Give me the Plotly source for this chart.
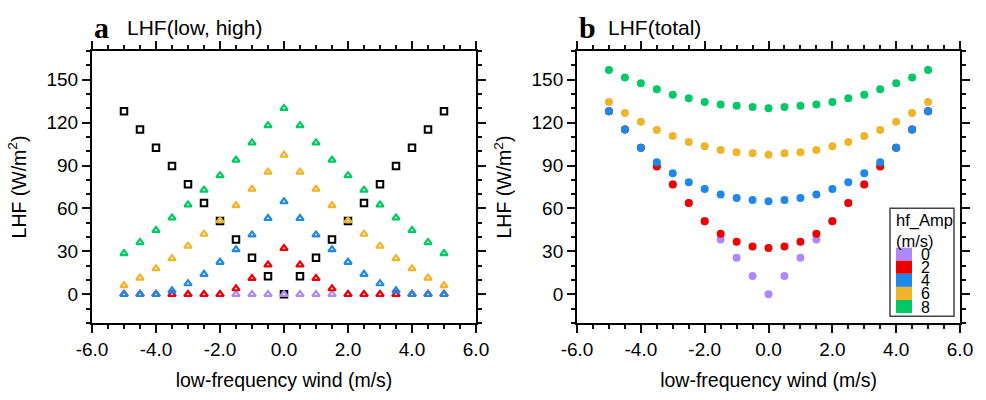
import plotly.graph_objects as go

# ---------------- data ----------------
wind = [-5.0, -4.5, -4.0, -3.5, -3.0, -2.5, -2.0, -1.5, -1.0, -0.5, 0.0,
        0.5, 1.0, 1.5, 2.0, 2.5, 3.0, 3.5, 4.0, 4.5, 5.0]

lhf_low = [128.0, 115.2, 102.4, 89.7, 76.9, 63.9, 51.3, 38.3, 25.6, 12.7, 0.0,
           12.7, 25.6, 38.3, 51.3, 63.9, 76.9, 89.7, 102.4, 115.2, 128.0]

amps = [0, 2, 4, 6, 8]
amp_colors = ["#AE88F8", "#EE0000", "#1E88E8", "#F0B429", "#00C965"]

lhf_high_0 = [0.0] * 21
lhf_high_2 = [0, 0, 0, 0, 0, 0, 0, 4.0, 11.2, 20.7, 32.2,
              20.7, 11.2, 4.0, 0, 0, 0, 0, 0, 0, 0]
lhf_high_4 = [0, 0, 0, 2.6, 7.5, 14.1, 22.5, 31.3, 41.6, 53.1, 64.8,
              53.1, 41.6, 31.3, 22.5, 14.1, 7.5, 2.6, 0, 0, 0]
lhf_high_6 = [6.2, 11.5, 18.1, 25.1, 33.7, 42.1, 51.5, 62.1, 73.6, 85.5, 97.4,
              85.5, 73.6, 62.1, 51.5, 42.1, 33.7, 25.1, 18.1, 11.5, 6.2]
lhf_high_8 = [28.6, 36.3, 44.7, 53.5, 62.6, 72.9, 83.0, 93.8, 105.9, 118.0, 130.0,
              118.0, 105.9, 93.8, 83.0, 72.9, 62.6, 53.5, 44.7, 36.3, 28.6]

lhf_total_0 = [128.0, 115.2, 102.4, 89.7, 76.9, 63.9, 51.3, 38.3, 25.6, 12.8, 0.0,
               12.8, 25.6, 38.3, 51.3, 63.9, 76.9, 89.7, 102.4, 115.2, 128.0]
lhf_total_2 = [128.0, 115.2, 102.4, 89.4, 76.7, 63.9, 51.1, 42.3, 36.8, 33.5, 32.4,
               33.5, 36.8, 42.3, 51.1, 63.9, 76.7, 89.4, 102.4, 115.2, 128.0]
lhf_total_4 = [128.0, 115.2, 102.4, 92.3, 84.6, 78.4, 73.6, 69.8, 67.4, 65.9, 65.0,
               65.9, 67.4, 69.8, 73.6, 78.4, 84.6, 92.3, 102.4, 115.2, 128.0]
lhf_total_6 = [134.4, 126.7, 120.5, 114.8, 110.6, 106.4, 103.5, 100.9, 99.3, 98.5, 97.6,
               98.5, 99.3, 100.9, 103.5, 106.4, 110.6, 114.8, 120.5, 126.7, 134.4]
lhf_total_8 = [156.8, 151.5, 147.4, 143.2, 139.4, 137.0, 134.4, 132.6, 131.7, 130.8, 130.0,
               130.8, 131.7, 132.6, 134.4, 137.0, 139.4, 143.2, 147.4, 151.5, 156.8]

x_tickvals = [-6, -4, -2, 0, 2, 4, 6]
x_ticktext = ["-6.0", "-4.0", "-2.0", "0.0", "2.0", "4.0", "6.0"]
y_tickvals = [0, 30, 60, 90, 120, 150]

lhf_high = [lhf_high_0, lhf_high_2, lhf_high_4, lhf_high_6, lhf_high_8]
lhf_total = [lhf_total_0, lhf_total_2, lhf_total_4, lhf_total_6, lhf_total_8]

# ---------------- figure ----------------
FONT = "Liberation Sans, Arial, Helvetica, sans-serif"
SERIF = "Liberation Serif, Times New Roman, serif"
TICK_SIZE = 19
TITLE_SIZE = 19.5
fig = go.Figure()

fig.add_trace(go.Scatter(
    x=wind, y=lhf_low, mode="markers", xaxis="x", yaxis="y", showlegend=False,
    name="low", marker=dict(symbol="square-open", size=6.5, color="black",
                            line=dict(width=2, color="black"))))
for amp, col, vals in zip(amps, amp_colors, lhf_high):
    fig.add_trace(go.Scatter(
        x=wind, y=vals, mode="markers", xaxis="x", yaxis="y", showlegend=False,
        name=str(amp),
        marker=dict(symbol="triangle-up-open", size=6.5, color=col, line=dict(width=2.2, color=col))))

for amp, col, vals in zip(amps, amp_colors, lhf_total):
    fig.add_trace(go.Scatter(
        x=wind, y=vals, mode="markers", xaxis="x2", yaxis="y2", showlegend=False,
        name=str(amp),
        marker=dict(symbol="circle", size=8, color=col, line=dict(width=0))))

XDOM1 = [0, 0.4424]
XDOM2 = [0.5588, 1]


def minor(dt):
    return dict(ticks="outside", ticklen=4, tickwidth=1.5, tickcolor="#111111", dtick=dt)


def xaxis_style(domain, anchor):
    return dict(domain=domain, anchor=anchor, range=[-6, 6],
                tickmode="array", tickvals=x_tickvals, ticktext=x_ticktext,
                showline=True, linewidth=2, linecolor="black", mirror="ticks",
                ticks="outside", ticklen=8, tickwidth=2, tickcolor="#111111",
                showgrid=False, zeroline=False,
                tickfont=dict(size=TICK_SIZE, color="black", family=FONT),
                minor=minor(0.5),
                title=dict(text="low-frequency wind (m/s)",
                           font=dict(size=TITLE_SIZE, color="black", family=FONT)))


def yaxis_style(anchor):
    return dict(anchor=anchor, domain=[0, 1], range=[-20, 170],
                tickmode="array", tickvals=y_tickvals,
                showline=True, linewidth=2, linecolor="black", mirror="ticks",
                ticks="outside", ticklen=8, tickwidth=2, tickcolor="#111111",
                showgrid=False, zeroline=False,
                tickfont=dict(size=TICK_SIZE, color="black", family=FONT),
                minor=minor(10),
                title=dict(text="LHF (W/m<sup>2</sup>)",
                           font=dict(size=TITLE_SIZE, color="black", family=FONT)))


fig.update_layout(
    width=986, height=400,
    margin=dict(l=92, r=26, t=51, b=62),
    plot_bgcolor="white",
    xaxis=xaxis_style(XDOM1, "y"),
    xaxis2=xaxis_style(XDOM2, "y2"),
    yaxis=yaxis_style("x"),
    yaxis2=yaxis_style("x2"),
    showlegend=False,
)

annots = [
    dict(text="<b>a</b>", x=0.0, font=dict(size=30, family=SERIF)),
    dict(text="LHF(low, high)", x=0.0379, font=dict(size=21, family=FONT)),
    dict(text="<b>b</b>", x=0.5588, font=dict(size=30, family=SERIF)),
    dict(text="LHF(total)", x=0.5922, font=dict(size=21, family=FONT)),
]
for a in annots:
    fig.add_annotation(xref="paper", yref="paper", showarrow=False, y=1.085,
                       xanchor="left", yanchor="middle", font_color="black", **a)

box_x0, box_x1, box_y0, box_y1 = 0.8172, 0.9843, 0.0244, 0.4216
fig.add_shape(type="rect", xref="x2 domain", yref="y2 domain",
              x0=box_x0, x1=box_x1, y0=box_y0, y1=box_y1,
              line=dict(color="#444444", width=1.5), fillcolor="white", layer="above")
fig.add_annotation(xref="x2 domain", yref="y2 domain", x=0.828, y=(338 - 240) / 287,
                   xanchor="left", yanchor="middle", showarrow=False, align="left",
                   text="hf_Amp<br>(m/s)", font=dict(size=16.5, family=FONT, color="black"))
row_h = 13.8 / 287
top0 = (338 - 258.5) / 287
for i, (amp, col) in enumerate(zip(amps, amp_colors)):
    yt = top0 - i * row_h
    fig.add_shape(type="rect", xref="x2 domain", yref="y2 domain",
                  x0=0.8329, x1=0.8747, y0=yt - row_h, y1=yt,
                  line=dict(width=0), fillcolor=col, layer="above")
    fig.add_annotation(xref="x2 domain", yref="y2 domain", x=0.911, y=yt - row_h / 2,
                       xanchor="center", yanchor="middle", showarrow=False, height=14,
                       text=str(amp), font=dict(size=16, family=FONT, color="black"))

fig.write_html("out.html", config={"displayModeBar": False},
               post_script="document.body.style.margin='0';")
